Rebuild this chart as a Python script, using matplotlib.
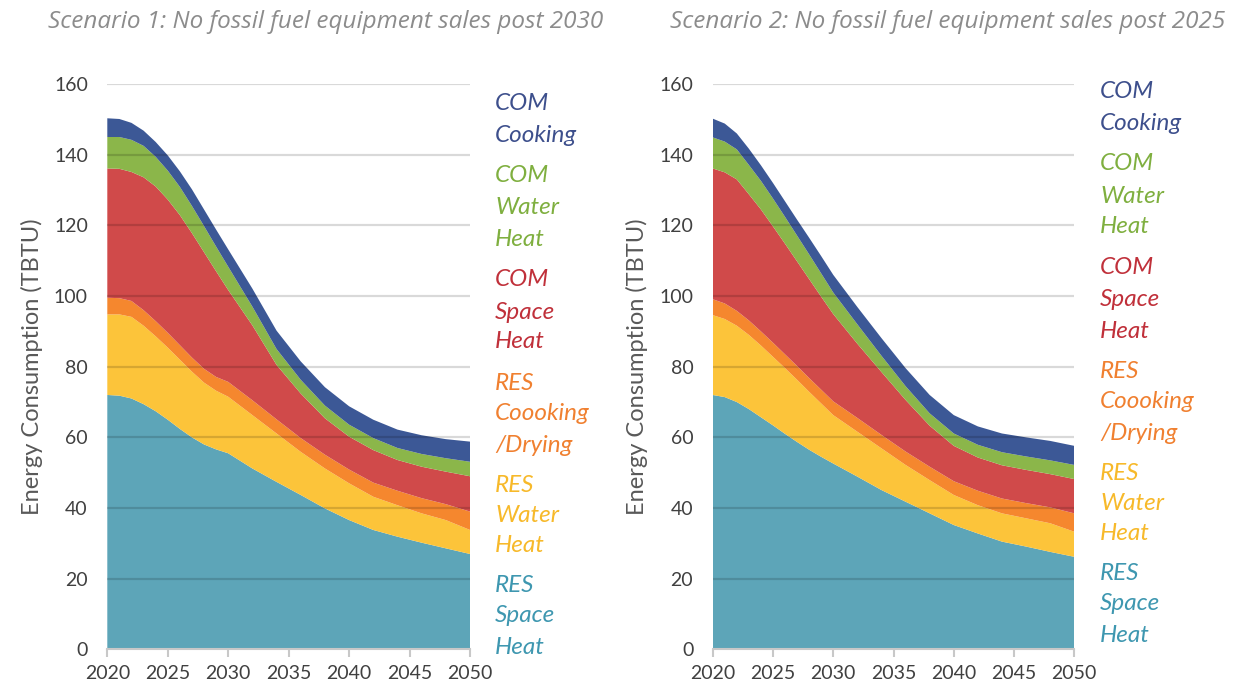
import numpy as np
import matplotlib
matplotlib.use('Agg')
import matplotlib.pyplot as plt

plt.rcParams['font.family'] = ['Lato', 'DejaVu Sans']

W, H = 1238, 690

years = [2020, 2021, 2022, 2023, 2024, 2025, 2026, 2027, 2028, 2029, 2030, 2032, 2034, 2036,
         2038, 2040, 2042, 2044, 2046, 2048, 2050]

# Scenario 1 (no fossil sales post 2030), layer values in TBTU
s1_res_space = [72.0, 71.8, 71.0, 69.4, 67.4, 65.0, 62.4, 60.0, 58.0, 56.6, 55.5, 51.2, 47.4, 43.7,
                39.9, 36.6, 33.8, 31.9, 30.2, 28.6, 27.0]
s1_res_water = [22.8, 23.0, 23.1, 22.2, 21.2, 20.4, 19.6, 18.6, 17.5, 16.6, 16.0, 15.1, 13.7, 12.2,
                11.3, 10.4, 9.4, 8.9, 8.3, 8.0, 6.8]
s1_res_cook = [4.7, 4.6, 4.5, 4.4, 4.3, 4.2, 4.1, 4.0, 3.9, 3.9, 4.2, 4.2, 4.0, 3.9,
               3.9, 3.9, 4.0, 4.1, 4.3, 4.5, 5.2]
s1_com_space = [36.6, 36.6, 36.5, 37.6, 38.1, 37.7, 36.8, 35.2, 33.0, 29.9, 26.0, 21.2, 15.4, 12.6,
                10.3, 9.3, 9.2, 8.7, 8.9, 9.2, 10.0]
s1_com_water = [8.9, 9.0, 9.1, 8.9, 8.4, 8.2, 8.0, 7.7, 7.4, 7.0, 6.6, 5.3, 4.5, 3.9,
                3.6, 3.4, 3.4, 3.4, 3.6, 3.8, 4.1]
s1_com_cook = [5.3, 5.1, 4.8, 4.3, 4.2, 4.3, 4.4, 4.7, 4.7, 4.8, 4.9, 5.1, 5.2, 5.2,
               5.2, 5.2, 5.2, 5.2, 5.3, 5.4, 5.7]

# Scenario 2 (no fossil sales post 2025)
s2_res_space = [72.0, 71.4, 70.0, 68.0, 65.7, 63.4, 61.0, 58.7, 56.5, 54.5, 52.6, 48.9, 45.1, 41.8,
                38.5, 35.2, 32.8, 30.5, 29.1, 27.6, 26.2]
s2_res_water = [22.6, 22.1, 21.6, 21.0, 20.3, 19.4, 18.6, 17.6, 16.4, 15.1, 13.7, 12.7, 11.8, 10.4,
                9.4, 8.5, 8.0, 8.0, 8.0, 8.1, 7.1]
s2_res_cook = [4.5, 4.4, 4.2, 4.1, 4.0, 4.0, 3.9, 3.9, 3.9, 3.9, 3.9, 3.9, 3.8, 3.8,
               3.8, 3.9, 4.1, 4.2, 4.3, 4.5, 5.2]
s2_com_space = [37.0, 37.1, 37.2, 35.7, 34.5, 32.9, 31.3, 29.6, 28.0, 26.3, 24.7, 21.0, 17.8, 14.6,
                11.6, 10.0, 9.4, 9.4, 9.4, 9.4, 9.7]
s2_com_water = [8.8, 8.7, 8.5, 8.3, 8.1, 7.9, 7.6, 7.3, 7.0, 6.6, 6.1, 5.5, 4.6, 3.9,
                3.5, 3.5, 3.6, 3.7, 3.8, 3.9, 4.0]
s2_com_cook = [5.3, 5.1, 4.5, 4.6, 4.4, 4.4, 4.4, 4.5, 4.7, 4.9, 5.0, 4.9, 5.0, 5.1,
               5.2, 5.2, 5.2, 5.3, 5.4, 5.5, 5.4]

titles = ['Scenario 1: No fossil fuel equipment sales post 2030',
          'Scenario 2: No fossil fuel equipment sales post 2025']

fill_colors = ['#5DA5B8', '#FCC43A', '#F5872E', '#D04A4A', '#8BB64A', '#3C5896']

# labels from top to bottom, with colour
label_groups = [
    (['COM', 'Cooking'], '#3D4F8C'),
    (['COM', 'Water', 'Heat'], '#7FAF3F'),
    (['COM', 'Space', 'Heat'], '#C0303A'),
    (['RES', 'Coooking', '/Drying'], '#F08030'),
    (['RES', 'Water', 'Heat'], '#F7B92A'),
    (['RES', 'Space', 'Heat'], '#3E97B0'),
]
# pixel rows of the label lines for each panel
label_rows_1 = [[103, 136], [175, 208, 240], [280, 312, 342], [383, 414, 446], [485, 516, 546], [585, 616, 648]]
label_rows_2 = [[91, 124], [163, 196, 227], [268, 299, 331], [371, 402, 434], [473, 504, 534], [573, 604, 636]]

fig = plt.figure(figsize=(W / 100, H / 100), dpi=100)

panels = [
    (107.3, 470.0, [s1_res_space, s1_res_water, s1_res_cook, s1_com_space, s1_com_water, s1_com_cook], label_rows_1, 495, 326),
    (712.7, 1074.3, [s2_res_space, s2_res_water, s2_res_cook, s2_com_space, s2_com_water, s2_com_cook], label_rows_2, 1100, 948),
]

y0, y160 = 649.4, 84.0
for i, (xl, xr, series, rows, lab_x, title_x) in enumerate(panels):
    ax = fig.add_axes([xl / W, 1 - y0 / H, (xr - xl) / W, (y0 - y160) / H])
    ax.stackplot(years, *series, colors=fill_colors, linewidth=0, zorder=2)
    ax.set_xlim(2020, 2050)
    ax.set_ylim(0, 160)
    ax.set_xticks(range(2020, 2051, 5))
    ax.set_yticks(range(0, 161, 20))
    for yy in range(20, 161, 20):
        ax.axhline(yy, color='k', alpha=0.15, lw=1.6, zorder=3)
    for s in ['top', 'right', 'left']:
        ax.spines[s].set_visible(False)
    ax.spines['bottom'].set_color('#C8C8C8')
    ax.spines['bottom'].set_linewidth(1.5)
    ax.spines['bottom'].set_zorder(4)
    ax.tick_params(axis='x', colors='#C8C8C8', length=6, width=1.5, labelcolor='#404040',
                   labelsize=14, pad=5)
    ax.tick_params(axis='y', length=0, labelcolor='#404040', labelsize=14, pad=14)
    ax.set_ylabel('Energy Consumption (TBTU)', color='#595959', fontsize=17, labelpad=8)
    fig.text(title_x / W, 1 - 22 / H, titles[i], ha='center', va='center', color='#8C8C8C',
             fontsize=17.5, style='italic', family=['Open Sans', 'DejaVu Sans'])
    for (words, col), ys in zip(label_groups, rows):
        for w, yy in zip(words, ys):
            fig.text(lab_x / W, 1 - yy / H, w, ha='left', va='center', color=col,
                     fontsize=17.5, style='italic')

fig.savefig('out.png', dpi=100)
